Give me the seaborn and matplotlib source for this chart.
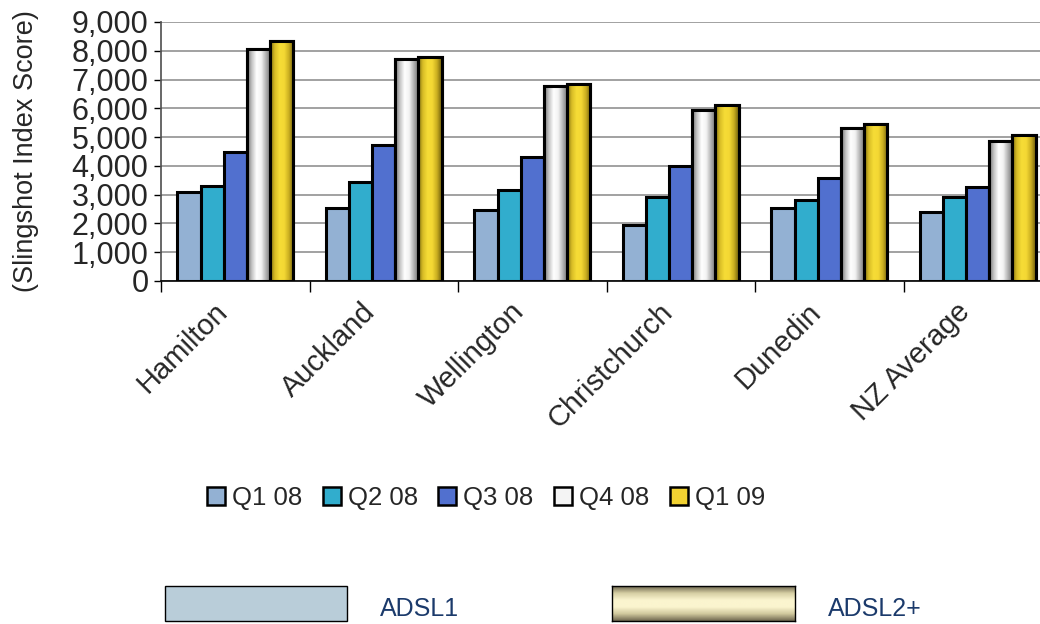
import numpy as np
import pandas as pd
import matplotlib
matplotlib.use("Agg")
import matplotlib.pyplot as plt
import seaborn as sns
from matplotlib.patches import Rectangle, Patch
from matplotlib.colors import LinearSegmentedColormap

cities = ["Hamilton", "Auckland", "Wellington", "Christchurch", "Dunedin", "NZ Average"]
quarters = ["Q1 08", "Q2 08", "Q3 08", "Q4 08", "Q1 09"]
q1_08 = [3110, 2540, 2480, 1950, 2540, 2410]
q2_08 = [3290, 3430, 3170, 2910, 2830, 2910]
q3_08 = [4470, 4730, 4320, 3990, 3570, 3270]
q4_08 = [8060, 7710, 6770, 5940, 5310, 4870]
q1_09 = [8350, 7800, 6840, 6100, 5460, 5090]
colors = ["#93B1D3", "#31ADCD", "#5170CF", "#F4F4F4", "#F2D232"]

df = pd.DataFrame({
    "City": cities * 5,
    "Quarter": sum([[q] * len(cities) for q in quarters], []),
    "Score": q1_08 + q2_08 + q3_08 + q4_08 + q1_09,
})

sns.set_theme(style="white")
plt.rcParams["font.family"] = ["Liberation Sans", "DejaVu Sans"]

fig = plt.figure(figsize=(10.4, 6.24), dpi=100)
ax = fig.add_axes([161 / 1040, 1 - 281 / 624, 891 / 1040, 259 / 624])

sns.barplot(data=df, x="City", y="Score", hue="Quarter", order=cities,
            hue_order=quarters, palette=colors, width=0.78, gap=0,
            edgecolor="black", linewidth=2.2, saturation=1, legend=False, ax=ax)

# gradient shading on the last two series
grey_cm = LinearSegmentedColormap.from_list(
    "g", ["#6e6e6e", "#c4c4c4", "#ffffff", "#f2f2f2", "#b0b0b0", "#707070"])
gold_cm = LinearSegmentedColormap.from_list(
    "y", ["#7d6c10", "#d8bd26", "#f6dc36", "#f4d834", "#c9ad20", "#6e5e0c"])
grad = np.linspace(0, 1, 100).reshape(1, -1)
for cont, cm in [(ax.containers[3], grey_cm), (ax.containers[4], gold_cm)]:
    for bar in cont:
        x, y = bar.get_x(), bar.get_y()
        w, h = bar.get_width(), bar.get_height()
        ax.imshow(grad, cmap=cm, extent=[x, x + w, y, y + h], aspect="auto",
                  zorder=bar.get_zorder() + 0.1, interpolation="bilinear")
        ax.add_patch(Rectangle((x, y), w, h, fill=False, edgecolor="black",
                               lw=2.2, zorder=bar.get_zorder() + 0.2))

ax.set_xlim(-0.5, 5.5)
ax.set_ylim(0, 9000)
ax.set_yticks(range(0, 9001, 1000))
ax.set_yticklabels([f"{v:,}" for v in range(0, 9001, 1000)], fontsize=22)
ax.yaxis.grid(True, color="#9a9a9a", lw=1.3)
ax.set_axisbelow(True)

# labels sit a little left of the group centre, like the original
ax.set_xticks(np.arange(len(cities)) - 0.15)
ax.set_xticklabels(cities, rotation=45, ha="right", rotation_mode="anchor", fontsize=21)
ax.set_xticks(np.arange(-0.5, 6, 1), minor=True)
ax.tick_params(axis="x", which="major", length=0, pad=12)
ax.tick_params(axis="x", which="minor", length=8, width=1, color="black", bottom=True)
ax.tick_params(axis="y", length=5, width=1, color="black", left=True, pad=4)

ax.set_xlabel("")
ax.set_ylabel("(Slingshot Index Score)", fontsize=19.5)
ax.yaxis.set_label_coords(-0.137, 0.5)
for s in ["top", "right"]:
    ax.spines[s].set_visible(False)
ax.spines["left"].set_color("#555555")
ax.spines["bottom"].set_color("black")
ax.spines["bottom"].set_linewidth(1.2)

handles = [Patch(facecolor=c, edgecolor="black", lw=1.8) for c in colors]
fig.legend(handles, quarters, loc="center", bbox_to_anchor=(486 / 1040, 1 - 498 / 624),
           ncol=5, frameon=False, fontsize=18.5, handlelength=0.7,
           handleheight=0.7, handletextpad=0.27, columnspacing=0.8)

# bottom key boxes
fig.add_artist(Rectangle((165 / 1040, 3 / 624), 182 / 1040, 35 / 624,
                         transform=fig.transFigure, facecolor="#B9CDD9",
                         edgecolor="black", lw=1))
box = fig.add_axes([612 / 1040, 3 / 624, 183 / 1040, 35 / 624])
cream_cm = LinearSegmentedColormap.from_list(
    "c", ["#6f6750", "#d6cfa4", "#fbf5cf", "#fbf5cf", "#cfc79c", "#6f6750"])
box.imshow(np.linspace(0, 1, 100).reshape(-1, 1), cmap=cream_cm, aspect="auto",
           interpolation="bilinear")
box.set_xticks([])
box.set_yticks([])
for s in box.spines.values():
    s.set_color("black")
    s.set_linewidth(1)

fig.text(380 / 1040, 1 - 609 / 624, "ADSL1", color="#1B3A6B", fontsize=18, va="center")
fig.text(828 / 1040, 1 - 609 / 624, "ADSL2+", color="#1B3A6B", fontsize=18, va="center")

fig.savefig("out.png", dpi=100)
